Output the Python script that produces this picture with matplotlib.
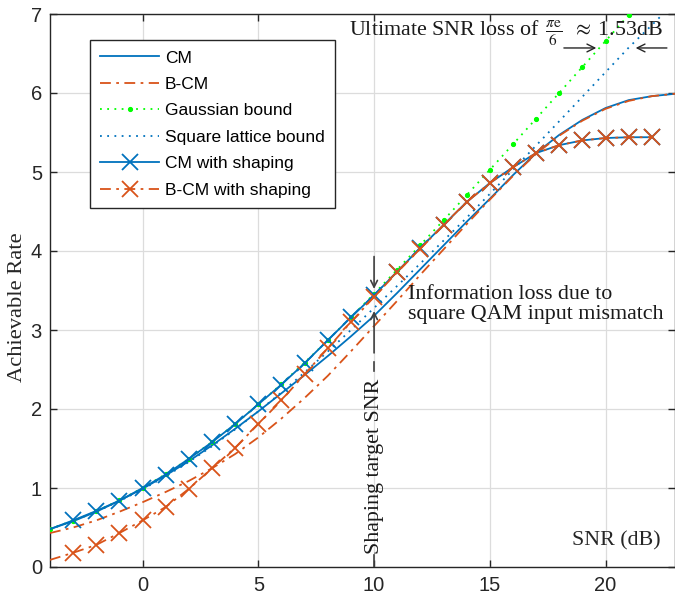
import numpy as np
import matplotlib
matplotlib.use("Agg")
import matplotlib.pyplot as plt

# ---------------- data ----------------
snr_full = [-4, -3, -2, -1, 0, 1, 2, 3, 4, 5, 6, 7, 8, 9, 10, 11, 12, 13, 14, 15,
            16, 17, 18, 19, 20, 21, 22, 23]
cm = [0.48, 0.58, 0.70, 0.84, 0.99, 1.16, 1.34, 1.54, 1.75, 1.97, 2.20, 2.43, 2.67,
      2.92, 3.18, 3.47, 3.77, 4.07, 4.37, 4.66, 4.96, 5.24, 5.47, 5.66, 5.81, 5.91,
      5.96, 5.99]
bcm = [0.43, 0.50, 0.59, 0.70, 0.82, 0.95, 1.09, 1.25, 1.43, 1.64, 1.88, 2.14, 2.42,
       2.73, 3.05, 3.37, 3.70, 4.02, 4.34, 4.65, 4.95, 5.23, 5.46, 5.65, 5.80, 5.90,
       5.96, 5.99]

snr_gauss = [-4, -3, -2, -1, 0, 1, 2, 3, 4, 5, 6, 7, 8, 9, 10, 11, 12, 13, 14, 15,
             16, 17, 18, 19, 20, 21, 22]
gauss = [0.483, 0.586, 0.706, 0.844, 1.000, 1.176, 1.370, 1.583, 1.812, 2.057, 2.317,
         2.588, 2.870, 3.161, 3.459, 3.765, 4.075, 4.389, 4.707, 5.028, 5.350, 5.676,
         6.002, 6.330, 6.658, 6.988, 7.318]

lattice = [0.480, 0.583, 0.700, 0.835, 0.983, 1.148, 1.330, 1.528, 1.742, 1.970, 2.211,
           2.464, 2.727, 3.000, 3.279, 3.559, 3.842, 4.131, 4.421, 4.723, 5.028, 5.335,
           5.643, 5.953, 6.264, 6.575, 6.860, 7.150]

snr_shaped = [-4, -3, -2, -1, 0, 1, 2, 3, 4, 5, 6, 7, 8, 9, 10, 11, 12, 13, 14, 15,
              16, 17, 18, 19, 20, 21, 22]
cm_shaped = [0.48, 0.59, 0.71, 0.84, 1.00, 1.17, 1.37, 1.58, 1.81, 2.06, 2.31, 2.58,
             2.87, 3.16, 3.44, 3.74, 4.04, 4.33, 4.62, 4.86, 5.06, 5.24, 5.34, 5.40,
             5.43, 5.44, 5.44]
bcm_shaped = [0.09, 0.18, 0.28, 0.43, 0.59, 0.76, 0.99, 1.25, 1.51, 1.81, 2.11, 2.44,
              2.77, 3.10, 3.42, 3.73, 4.03, 4.33, 4.62, 4.86, 5.06, 5.24, 5.34, 5.40,
              5.43, 5.44, 5.44]

labels = ["CM", "B-CM", "Gaussian bound", "Square lattice bound",
          "CM with shaping", "B-CM with shaping"]
x_ticks = [0, 5, 10, 15, 20]
y_ticks = [0, 1, 2, 3, 4, 5, 6, 7]

# ---------------- styling ----------------
BLUE = "#0072BD"
ORANGE = "#D95319"
GREEN = "#00FF00"
SANS = "Liberation Sans"
SERIF = "Liberation Serif"
SFS = 15.8
plt.rcParams["mathtext.fontset"] = "stix"
plt.rcParams["font.family"] = SANS

fig = plt.figure(figsize=(6.75, 5.99), dpi=100)
ax = fig.add_axes([50 / 675, 32 / 599, 625 / 675, 553 / 599])

dashdot = (0, (6, 3, 1.5, 3))
lw = 1.3

ax.plot(snr_full, cm, color=BLUE, lw=lw, ls="-", label=labels[0], zorder=3)
ax.plot(snr_full, bcm, color=ORANGE, lw=lw, ls=dashdot, label=labels[1], zorder=3)
ax.plot(snr_gauss, gauss, color=GREEN, lw=lw, ls=(0, (1, 3)), marker=".", ms=5.5,
        label=labels[2], zorder=3)
ax.plot(snr_full, lattice, color=BLUE, lw=lw, ls=(0, (1, 3)), label=labels[3], zorder=3)
ax.plot(snr_shaped, cm_shaped, color=BLUE, lw=lw, ls="-", marker="x", ms=11, mew=1.3,
        markevery=list(range(1, len(snr_shaped))), label=labels[4], zorder=4)
ax.plot(snr_shaped, bcm_shaped, color=ORANGE, lw=lw, ls=dashdot, marker="x", ms=11,
        mew=1.3, markevery=list(range(1, len(snr_shaped))), label=labels[5], zorder=4)

ax.set_xlim(-4, 23)
ax.set_ylim(0, 7)
ax.set_xticks(x_ticks)
ax.set_yticks(y_ticks)
ax.grid(True, color="#DCDCDC", lw=0.9)
ax.set_axisbelow(True)
ax.tick_params(direction="in", length=5, width=1, top=True, right=True,
               labelsize=14.5, colors="#262626")
ax.tick_params(axis="x", pad=6.5)
ax.tick_params(axis="y", pad=5.8)
for lab in ax.get_xticklabels() + ax.get_yticklabels():
    lab.set_fontfamily(SANS)
for sp in ax.spines.values():
    sp.set_color("#262626")
    sp.set_linewidth(1.0)

leg = ax.legend(loc="upper left", bbox_to_anchor=(0.064, 0.953),
                prop={"family": SANS, "size": 12.5},
                handlelength=3.4, labelspacing=0.65, borderpad=0.6, handletextpad=0.3,
                fancybox=False, framealpha=1, edgecolor="#262626", borderaxespad=0,
                numpoints=1)
leg.get_frame().set_linewidth(1.0)

# ---------------- annotations ----------------
fig.text(18 / 675, 1 - 307 / 599, "Achievable Rate", rotation=90, ha="center",
         va="center", family=SERIF, fontsize=SFS + 0.4, color="#262626")

ax.text(20.47, 0.33, "SNR (dB)", ha="center", va="center", family=SERIF,
        fontsize=SFS, color="#262626")

ax.text(8.9, 6.72,
        r"Ultimate SNR loss of $\,\frac{\pi\mathrm{e}}{6}\;\;\approx\;$1.53dB",
        ha="left", va="baseline", family=SERIF, fontsize=SFS, color="#1a1a1a")
arr = dict(arrowstyle="->", color="#262626", lw=1.0, shrinkA=0, shrinkB=0,
           mutation_scale=14)
ax.annotate("", xy=(19.6, 6.57), xytext=(18.2, 6.57), arrowprops=arr)
ax.annotate("", xy=(21.3, 6.57), xytext=(22.65, 6.57), arrowprops=arr)

ax.text(11.45, 3.32, "Information loss due to\nsquare QAM input mismatch",
        ha="left", va="center", family=SERIF, fontsize=SFS, linespacing=1.05,
        color="#1a1a1a")
arr2 = dict(arrowstyle="->", color="#404040", lw=1.2, shrinkA=0, shrinkB=0,
            mutation_scale=12)
ax.annotate("", xy=(10, 3.52), xytext=(10, 3.93), arrowprops=arr2, zorder=5)
ax.annotate("", xy=(10, 3.24), xytext=(10, 2.71), arrowprops=arr2, zorder=5)
ax.plot([10, 10], [2.48, 2.595], color="#404040", lw=1.2, zorder=5)
ax.plot([10, 10], [0, 0.15], color="#404040", lw=1.2, zorder=5)
ax.text(10, 1.27, "Shaping target SNR", rotation=90, ha="center", va="center",
        family=SERIF, fontsize=SFS, color="#1a1a1a")

fig.savefig("out.png", dpi=100)
